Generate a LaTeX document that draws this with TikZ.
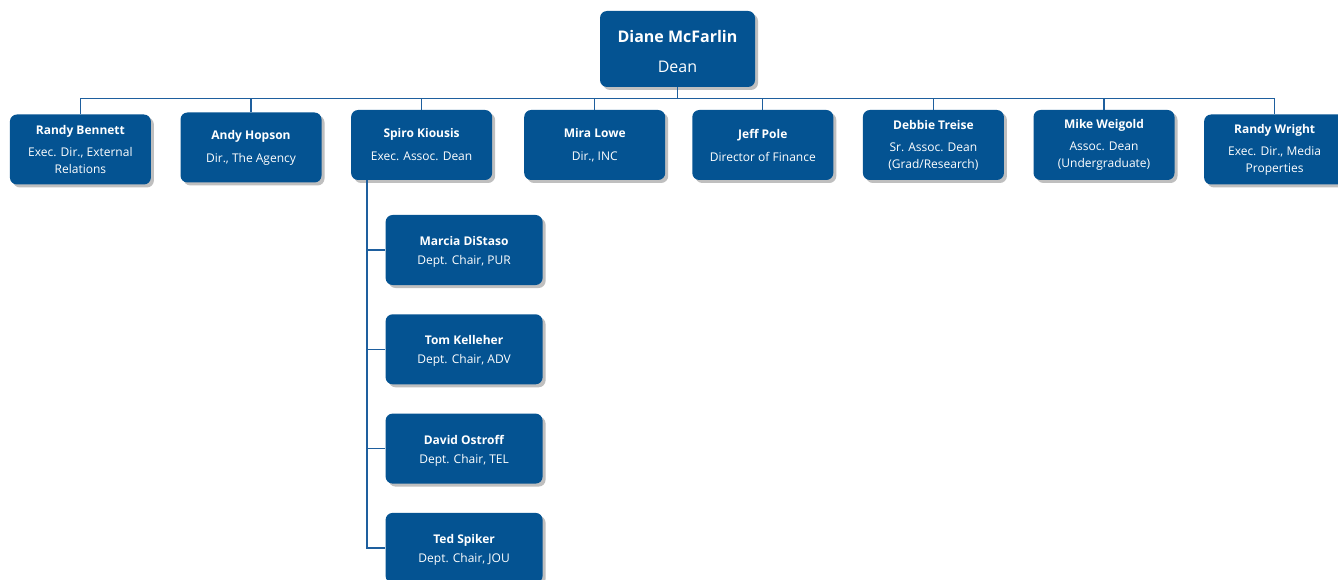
\documentclass[tikz,border=0pt]{standalone}
\usepackage{fontspec}
\setmainfont{Open Sans}
\usetikzlibrary{calc, trees, shadows}

\definecolor{boxblue}{RGB}{4,83,146}
\definecolor{lineblue}{RGB}{30,95,158}

\begin{document}
\begin{tikzpicture}[
    every node/.style = {fill = boxblue, text = white, rounded corners = 7pt,
      align = center, inner sep = 2pt,
      drop shadow = {shadow xshift = 3pt, shadow yshift = -3pt,
        fill = black!25, opacity = 1}},
    deanbox/.style = {minimum width = 155pt, minimum height = 76pt,
      font = \fontsize{16}{21}\selectfont},
    unitbox/.style = {minimum width = 141pt, minimum height = 70pt,
      font = \fontsize{12}{17}\selectfont},
    chairbox/.style = {minimum width = 157pt, minimum height = 70pt,
      font = \fontsize{12}{17}\selectfont},
    edge from parent/.style = {draw = lineblue, line width = 1.3pt},
    grow = down,
    level 1/.style = {sibling distance = 170.6pt, level distance = 96pt,
      edge from parent path = {(\tikzparentnode.south) -- ++(0,-11pt)
        -| (\tikzchildnode.north)}},
    level 2/.style = {grow via three points = {one child at (42.5pt,-105pt)
        and two children at (42.5pt,-105pt) and (42.5pt,-204.3pt)},
      edge from parent path = {($(\tikzparentnode.south west)+(16pt,0)$)
        |- (\tikzchildnode.west)}}
  ]
  \useasboundingbox (0,0) rectangle (1338pt,-580pt);

  \node[deanbox] (Dean) at (677.5pt,-49pt)
    {\rule{0pt}{18pt}\textbf{Diane McFarlin}\\[9pt] Dean}
   child { node[unitbox, yshift = -4.5pt] (Bennett)
     {\textbf{Randy Bennett}\\[5pt] Exec. Dir., External\\ Relations} }
   child { node[unitbox, yshift = -2.5pt] (Hopson)
     {\textbf{Andy Hopson}\\[6pt] Dir., The Agency} }
   child { node[unitbox] (Kiousis)
     {\textbf{Spiro Kiousis}\\[6pt] Exec. Assoc. Dean}
     child { node[chairbox] (DiStaso) {\rule{0pt}{13pt}\textbf{Marcia DiStaso}\\[2pt] Dept. Chair, PUR} }
     child { node[chairbox] (Kelleher) {\rule{0pt}{13pt}\textbf{Tom Kelleher}\\[2pt] Dept. Chair, ADV} }
     child { node[chairbox] (Ostroff) {\rule{0pt}{13pt}\textbf{David Ostroff}\\[2pt] Dept. Chair, TEL} }
     child { node[chairbox] (Spiker) {\rule{0pt}{13pt}\textbf{Ted Spiker}\\[2pt] Dept. Chair, JOU} }
   }
   child { node[unitbox, xshift = 2.5pt] (Lowe)
     {\textbf{Mira Lowe}\\[6pt] Dir., INC} }
   child { node[unitbox] (Pole)
     {\textbf{Jeff Pole}\\[6pt] Director of Finance} }
   child { node[unitbox] (Treise)
     {\textbf{Debbie Treise}\\[5pt] Sr. Assoc. Dean\\ (Grad/Research)} }
   child { node[unitbox] (Weigold)
     {\textbf{Mike Weigold}\\[5pt] Assoc. Dean\\ (Undergraduate)} }
   child { node[unitbox, yshift = -4.5pt] (Wright)
     {\textbf{Randy Wright}\\[5pt] Exec. Dir., Media\\ Properties} };
\end{tikzpicture}
\end{document}
